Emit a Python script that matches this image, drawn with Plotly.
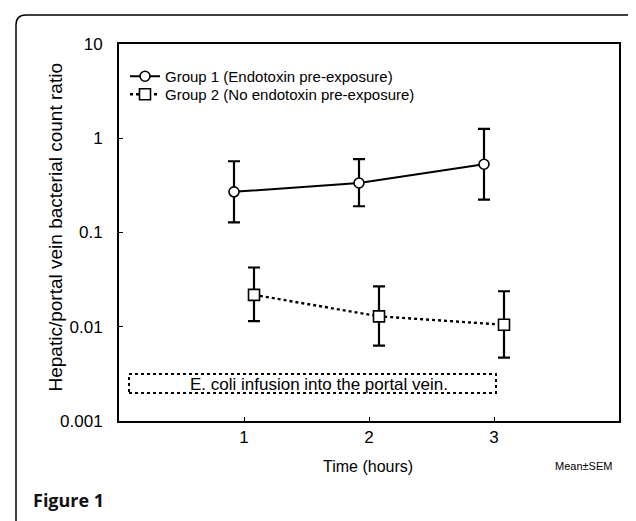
import plotly.graph_objects as go

# ---- data ----
time_hours = [1, 2, 3]
group1_mean = [0.27, 0.335, 0.53]
group1_upper = [0.57, 0.60, 1.26]
group1_lower = [0.128, 0.19, 0.223]
group2_mean = [0.0218, 0.0129, 0.0105]
group2_upper = [0.0425, 0.0268, 0.0238]
group2_lower = [0.0115, 0.0063, 0.0047]
y_tickvals = [0.001, 0.01, 0.1, 1, 10]
y_ticktext = ["0.001", "0.01", "0.1", "1", "10"]
x_tickvals = [1, 2, 3]
legend_names = ["Group 1 (Endotoxin pre-exposure)", "Group 2 (No endotoxin pre-exposure)"]

# ---- layout constants ----
W, H = 636, 521
L, R, T, B = 111, 25, 36, 108
PW, PH = W - L - R, H - T - B
offset = 0.08  # horizontal jitter of the two groups
FONT = "Arial"


def px(x):
    return (x - L) / PW


def py(y):
    return (H - B - y) / PH


fig = go.Figure()

fig.add_trace(go.Scatter(
    x=[t - offset for t in time_hours], y=group1_mean,
    mode="lines+markers", name=legend_names[0], legend="legend",
    line=dict(color="black", width=2),
    marker=dict(symbol="circle", size=10, color="white", line=dict(color="black", width=1.6)),
    error_y=dict(type="data", symmetric=False,
                 array=[u - m for u, m in zip(group1_upper, group1_mean)],
                 arrayminus=[m - l for m, l in zip(group1_mean, group1_lower)],
                 color="black", thickness=2.2, width=6),
))
fig.add_trace(go.Scatter(
    x=[t + offset for t in time_hours], y=group2_mean,
    mode="lines+markers", name=legend_names[1], legend="legend2",
    line=dict(color="black", width=2.4, dash="dot"),
    marker=dict(symbol="square", size=11, color="white", line=dict(color="black", width=1.6)),
    error_y=dict(type="data", symmetric=False,
                 array=[u - m for u, m in zip(group2_upper, group2_mean)],
                 arrayminus=[m - l for m, l in zip(group2_mean, group2_lower)],
                 color="black", thickness=2.2, width=6),
))

# frame with rounded top corners
x0, x1 = px(8), px(634)
yt, yb = py(7), py(540)
rx, ry = 10 / PW, 10 / PH
frame_path = (f"M {x0},{yb} L {x0},{yt - ry} Q {x0},{yt} {x0 + rx},{yt} "
              f"L {x1 - rx},{yt} Q {x1},{yt} {x1},{yt - ry} L {x1},{yb}")

shapes = [
    dict(type="path", xref="paper", yref="paper", path=frame_path,
         line=dict(color="black", width=1.5), layer="below"),
    dict(type="rect", xref="x", yref="y", x0=0.08, x1=3.016, y0=0.00198, y1=0.00315,
         line=dict(color="black", width=2, dash="dot"), fillcolor="rgba(0,0,0,0)"),
]

annotations = [
    dict(text="E. coli infusion into the portal vein.", x=1.6, y=-2.61, xref="x", yref="y",
         showarrow=False, font=dict(family=FONT, size=17, color="black")),
    dict(text="Mean±SEM", x=px(606), y=py(458), xref="paper", yref="paper",
         xanchor="right", yanchor="middle", showarrow=False,
         font=dict(family=FONT, size=11, color="black")),
    dict(text="<b>Figure 1</b>", x=px(23), y=py(492), xref="paper", yref="paper",
         xanchor="left", yanchor="middle", showarrow=False,
         font=dict(family="Open Sans, sans-serif", size=18, color="#111")),
    dict(text="Hepatic/portal vein bacterial count ratio", x=px(35), y=py(220),
         xref="paper", yref="paper", textangle=-90, showarrow=False,
         font=dict(family=FONT, size=19, color="black")),
    dict(text="Time (hours)", x=px(360), y=py(469), xref="paper", yref="paper",
         showarrow=False, font=dict(family=FONT, size=16, color="black")),
]

legend_common = dict(xanchor="left", yanchor="top", bgcolor="rgba(0,0,0,0)",
                     itemwidth=30, font=dict(family=FONT, size=15, color="black"))

fig.update_layout(
    width=W, height=H,
    margin=dict(l=L, r=R, t=T, b=B),
    paper_bgcolor="white", plot_bgcolor="white",
    font=dict(family=FONT, size=16, color="black"),
    showlegend=True,
    legend=dict(x=px(117), y=py(52), **legend_common),
    legend2=dict(x=px(117), y=py(70), **legend_common),
    shapes=shapes,
    annotations=annotations,
)

fig.update_xaxes(range=[0, 4], tickvals=x_tickvals, showline=True, linecolor="black",
                 linewidth=2, mirror=True, ticks="inside", ticklen=4, tickcolor="black",
                 showgrid=False, zeroline=False, tickfont=dict(family=FONT, size=17),
                 ticklabelstandoff=0)
fig.update_yaxes(type="log", range=[-3, 1], tickvals=y_tickvals, ticktext=y_ticktext,
                 showline=True, linecolor="black", linewidth=2, mirror=True,
                 ticks="inside", ticklen=4, tickcolor="black", showgrid=False,
                 zeroline=False, tickfont=dict(family=FONT, size=17), ticklabelstandoff=11)

fig.write_html("out.html")
